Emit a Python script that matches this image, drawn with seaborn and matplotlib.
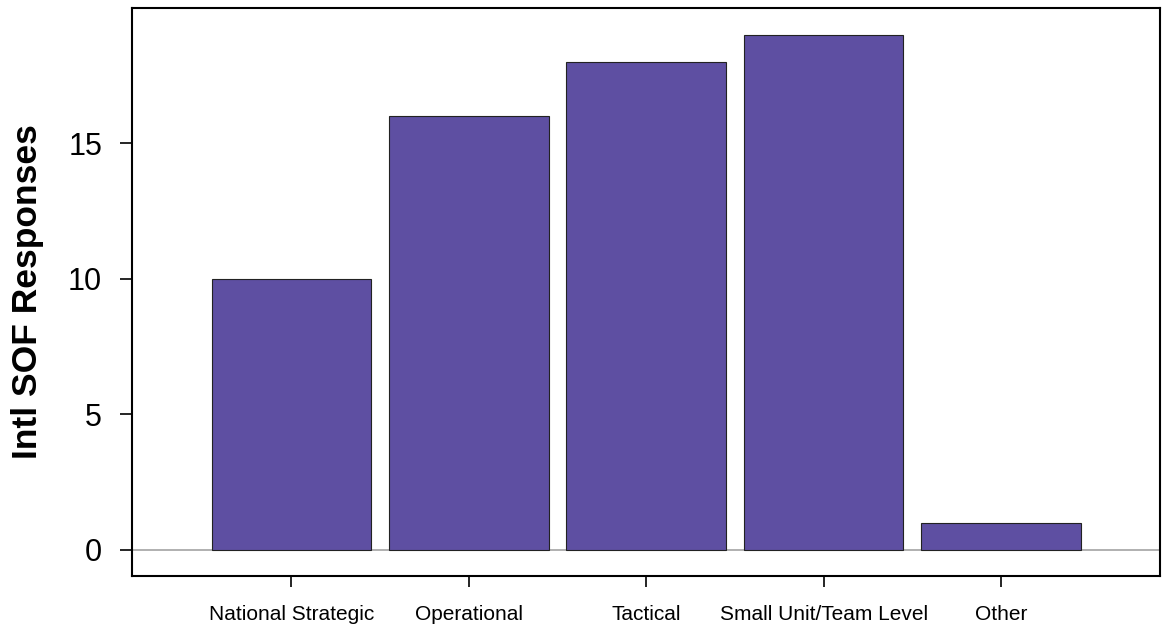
import matplotlib
matplotlib.use("Agg")
import matplotlib.pyplot as plt
import seaborn as sns
import pandas as pd

categories = ["National Strategic", "Operational", "Tactical", "Small Unit/Team Level", "Other"]
responses = [10, 16, 18, 19, 1]
y_ticks = [0, 5, 10, 15]

sns.set_style("white")
plt.rcParams['font.family'] = ['Liberation Sans', 'DejaVu Sans']

df = pd.DataFrame({"level": categories, "n": responses})

fig = plt.figure(figsize=(11.65, 6.29), dpi=100)
ax = fig.add_axes([132/1165, 1-576/629, (1160-132)/1165, (576-8)/629])

ax.axhline(0, color="#aaaaaa", lw=1.3, zorder=0)
sns.barplot(data=df, x="level", y="n", color="#5E4FA2", saturation=1, width=0.9,
            edgecolor="#222222", linewidth=0.8, ax=ax, zorder=2)

ax.set_ylim(-0.96, 19.98)
ax.set_xlim(-0.899, 4.896)
ax.set_yticks(y_ticks)
ax.set_yticklabels([str(t) for t in y_ticks], fontsize=22, color="black")
ax.set_xticks(range(len(categories)))
ax.set_xticklabels(categories, fontsize=15, color="black")
ax.tick_params(axis="y", length=8.5, width=1.2, pad=13, colors="black", direction="out", left=True)
ax.tick_params(axis="x", length=8, width=1.2, pad=13, colors="black", direction="out", bottom=True)
ax.set_xlabel("")
ax.set_ylabel("Intl SOF Responses", fontsize=25.5, fontweight="bold", labelpad=17, color="black")
for s in ax.spines.values():
    s.set_visible(True)
    s.set_color("black")
    s.set_linewidth(1.5)

fig.savefig("out.png", dpi=100)
